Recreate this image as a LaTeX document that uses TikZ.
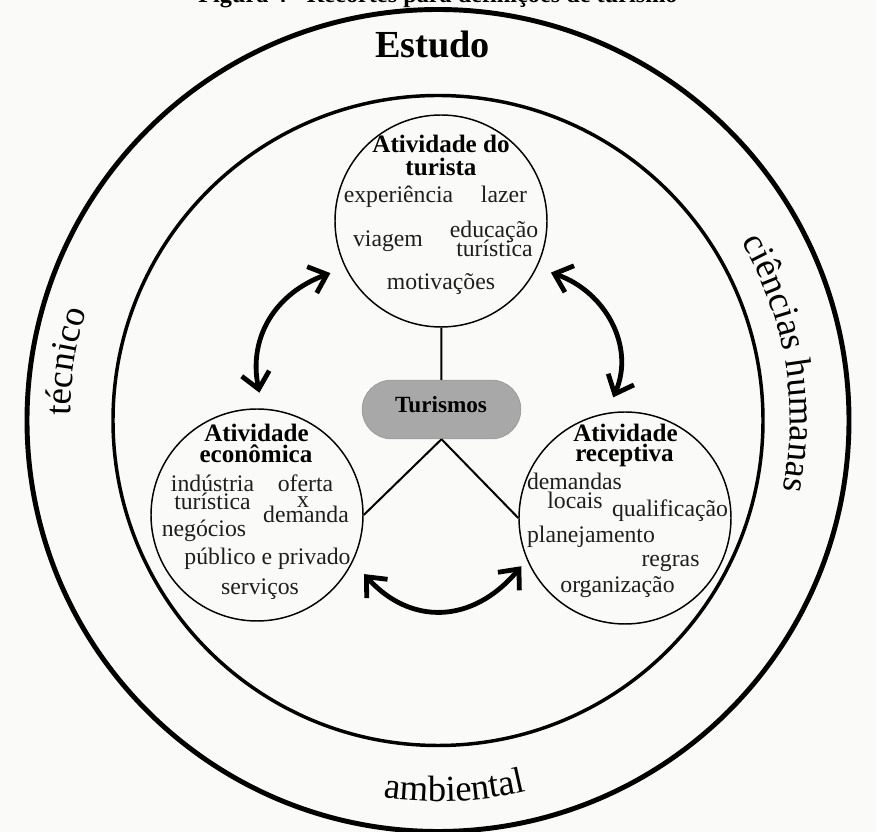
\documentclass[tikz,border=0pt]{standalone}
\usepackage{fontspec}
\setmainfont{Liberation Serif}
\usetikzlibrary{arrows.meta,decorations.text}
\definecolor{paper}{HTML}{FAFAF8}
\definecolor{pillgray}{HTML}{A8A8A8}
\definecolor{ink}{HTML}{1E1E1E}
\newcommand\ringfont{\fontsize{27.5}{30}\selectfont}

\begin{document}
\begin{tikzpicture}[x=0.75pt,y=0.75pt,
  bubble/.style={circle, draw=black, line width=1.1pt, minimum size=159pt, inner sep=0pt},
  core/.style={rectangle, rounded corners=22pt, fill=pillgray, draw=pillgray!92!black,
    line width=0.6pt, minimum width=119pt, minimum height=44pt, inner sep=0pt},
  word/.style={anchor=base, inner sep=0pt, text=ink, font=\fontsize{17.8}{20}\selectfont},
  headword/.style={anchor=base, inner sep=0pt, text=black, font=\bfseries\fontsize{18.8}{21}\selectfont},
  link/.style={line width=1.5pt},
  swap/.style={line width=3.6pt,
    {Straight Barb[length=12pt,width=21pt]}-{Straight Barb[length=12pt,width=21pt]}},
  ringtext/.style={decorate, decoration={text along path, text align=center,
    text={|\ringfont|#1}}}
]
% canvas and page size
\fill[paper] (0,0) rectangle (876,832);
\useasboundingbox (0,0) rectangle (876,832);

% caption (only its lower edge falls on the page)
\node[anchor=base, inner sep=0pt, font=\bfseries\fontsize{18.2}{20}\selectfont]
  (caption) at (438,829) {Figura 4 - Recortes para definições de turismo};

% the two rings
\coordinate (mid) at (438,411.5);
\draw[line width=3.7pt] (mid) circle[radius=411];
\draw[line width=2.6pt] (mid) circle[radius=325];

% ring labels
\node[anchor=base, inner sep=0pt, font=\bfseries\fontsize{28.7}{32}\selectfont]
  (estudo) at (432.5,774) {Estudo};
\path[ringtext={técnico}] (mid) ++(191:368) arc[start angle=191, end angle=151, radius=368];
\path[ringtext={ciências humanas}] (mid) ++(44.5:352) arc[start angle=44.5, end angle=-25.5, radius=352];
\path[ringtext={ambiental}] (mid) ++(242.6:381) arc[start angle=242.6, end angle=302.6, radius=381];

% the three activity circles and the central pill
\node[bubble] (top)   at (441,611) {};
\node[bubble] (left)  at (257,317) {};
\node[bubble] (right) at (625,314) {};
\node[core] (core) at (441.5,422.5) {};
\node[anchor=base, inner sep=0pt, font=\bfseries\fontsize{17.4}{20}\selectfont]
  (turismos) at (441,419) {Turismos};

% straight links to the centre
\draw[link] (top) -- (core);
\draw[link] (core.south) -- (left.east);
\draw[link] (core.south) -- (right.west);

% curved two-way arrows between the circles
\draw[swap, shorten <=11.7pt, shorten >=12pt]
  (top.206.3) to[out=200, in=101.5, looseness=1.15] (left.87.2);
\draw[swap, shorten <=11.1pt, shorten >=12.7pt]
  (top.334.5) to[out=341, in=66.5, looseness=1.15] (right.100.3);
\draw[swap, shorten <=12.4pt, shorten >=6.4pt]
  (left.334.9) to[out=312, in=230, looseness=1.25] (right.203.7);

% Atividade do turista
\node[headword] (t1) at (441,679) {Atividade do};
\node[headword] (t2) at (441,656) {turista};
\node[word] (t3) at (398.5,629) {experiência};
\node[word] (t4) at (504,629) {lazer};
\node[word] (t5) at (388,585) {viagem};
\node[word] (t6) at (494,594) {educação};
\node[word] (t7) at (494.5,575) {turística};
\node[word] (t8) at (441,542) {motivações};

% Atividade econômica
\node[headword] (e1) at (256.5,390) {Atividade};
\node[headword] (e2) at (256,369) {econômica};
\node[word] (e3) at (212.5,340) {indústria};
\node[word] (e4) at (212.5,322) {turística};
\node[word] (e5) at (305.5,340) {oferta};
\node[word] (e6) at (303,324) {x};
\node[word] (e7) at (306,309) {demanda};
\node[word] (e8) at (204,295) {negócios};
\node[word] (e9) at (267.5,267) {público e privado};
\node[word] (e10) at (260,237) {serviços};

% Atividade receptiva
\node[headword] (r1) at (625.5,390) {Atividade};
\node[headword] (r2) at (624.5,370) {receptiva};
\node[word] (r3) at (574.5,342) {demandas};
\node[word] (r4) at (575,323) {locais};
\node[word] (r5) at (670,315) {qualificação};
\node[word] (r6) at (591,289) {planejamento};
\node[word] (r7) at (670.5,265) {regras};
\node[word] (r8) at (617.5,239) {organização};
\end{tikzpicture}
\end{document}
